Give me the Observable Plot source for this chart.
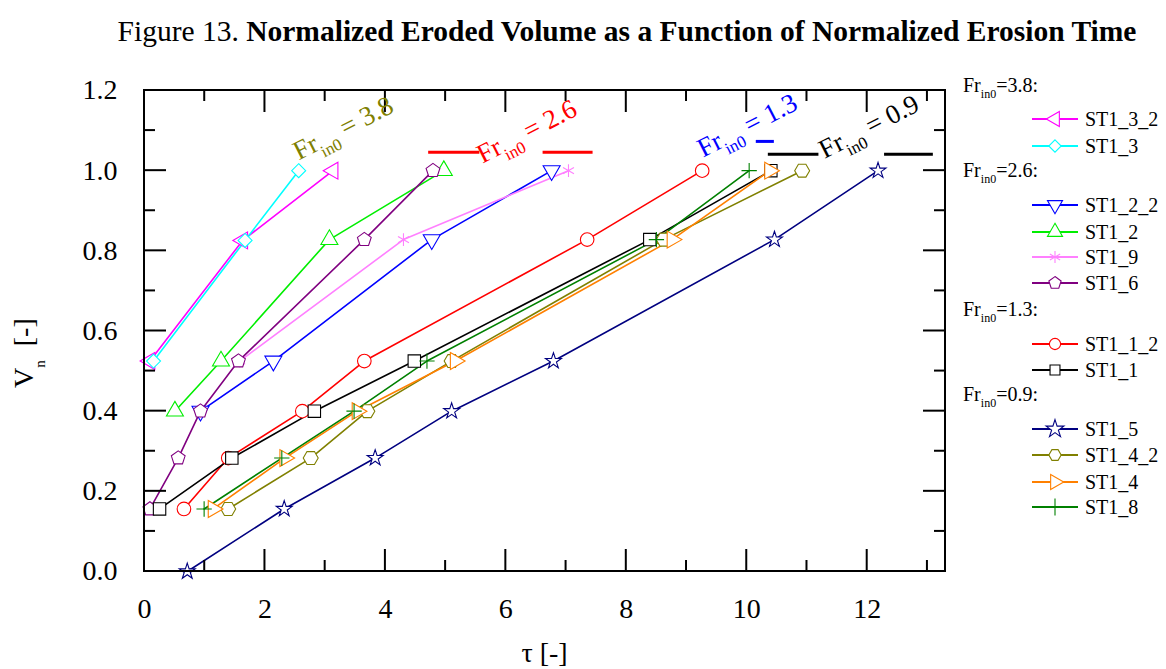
<!DOCTYPE html>
<html>
<head>
<meta charset="utf-8">
<script src="https://cdn.jsdelivr.net/npm/d3@7"></script>
<script src="https://cdn.jsdelivr.net/npm/@observablehq/plot@0.6"></script>
<style>
  html, body { margin: 0; padding: 0; background: #fff; }
  #title {
    font-family: "Liberation Serif", "Times New Roman", serif;
    font-size: 29.5px; line-height: 34px; height: 60px; box-sizing: border-box;
    width: 1166px; padding-top: 14px; padding-left: 88px; text-align: center; color: #000;
    white-space: nowrap;
  }
  #chart svg { display: block; }
</style>
</head>
<body>
<div id="title">Figure 13. <b>Normalized Eroded Volume as a Function of Normalized Erosion Time</b></div>
<div id="chart"></div>
<script>
// ---------- data ----------
const xMajor = [0, 2, 4, 6, 8, 10, 12];
const xMinor = [1, 3, 5, 7, 9, 11, 13];
const yMajor = [0, 0.2, 0.4, 0.6, 0.8, 1.0, 1.2];
const yMinor = [0.1, 0.3, 0.5, 0.7, 0.9, 1.1];

const seriesNames = ["ST1_3_2", "ST1_3", "ST1_2_2", "ST1_2", "ST1_9", "ST1_6", "ST1_1_2", "ST1_1", "ST1_5", "ST1_4_2", "ST1_4", "ST1_8"];

const tau_ST1_3_2 = [0.09, 1.63, 3.13];
const vn_ST1_3_2  = [0.525, 0.826, 1.0];
const tau_ST1_3   = [0.15, 1.67, 2.56];
const vn_ST1_3    = [0.525, 0.826, 1.0];
const tau_ST1_2_2 = [0.93, 2.14, 4.77, 6.76];
const vn_ST1_2_2  = [0.40, 0.525, 0.828, 1.0];
const tau_ST1_2   = [0.505, 1.27, 3.07, 4.97];
const vn_ST1_2    = [0.40, 0.525, 0.828, 1.0];
const tau_ST1_9   = [1.58, 4.30, 7.04];
const vn_ST1_9    = [0.525, 0.828, 1.0];
const tau_ST1_6   = [0.09, 0.56, 0.93, 1.56, 3.65, 4.79];
const vn_ST1_6    = [0.156, 0.283, 0.40, 0.525, 0.828, 1.0];
const tau_ST1_1_2 = [0.655, 1.39, 2.62, 3.65, 7.35, 9.26];
const vn_ST1_1_2  = [0.156, 0.283, 0.40, 0.525, 0.828, 1.0];
const tau_ST1_1   = [0.25, 1.45, 2.82, 4.48, 8.39, 10.40];
const vn_ST1_1    = [0.156, 0.283, 0.40, 0.525, 0.828, 1.0];
const tau_ST1_5   = [0.71, 2.32, 3.83, 5.10, 6.79, 10.46, 12.18];
const vn_ST1_5    = [0.0, 0.156, 0.283, 0.40, 0.525, 0.828, 1.0];
const tau_ST1_4_2 = [1.39, 2.76, 3.70, 5.10, 8.62, 10.92];
const vn_ST1_4_2  = [0.156, 0.283, 0.40, 0.525, 0.828, 1.0];
const tau_ST1_4   = [1.14, 2.33, 3.53, 5.16, 8.76, 10.38];
const vn_ST1_4    = [0.156, 0.283, 0.40, 0.525, 0.828, 1.0];
const tau_ST1_8   = [0.99, 2.28, 3.48, 4.69, 8.50, 10.04];
const vn_ST1_8    = [0.156, 0.283, 0.40, 0.525, 0.828, 1.0];

// legend groups (Fr_in0 values)
const groupFr = ["3.8", "2.6", "1.3", "0.9"];
const groupMembers = [["ST1_3_2", "ST1_3"], ["ST1_2_2", "ST1_2", "ST1_9", "ST1_6"], ["ST1_1_2", "ST1_1"], ["ST1_5", "ST1_4_2", "ST1_4", "ST1_8"]];

// in-plot annotations "Fr_in0 = ..." (anchor in data units)
const annoFr  = ["3.8", "2.6", "1.3", "0.9"];
const annoTau = [2.57, 5.62, 9.28, 11.30];
const annoVn  = [1.024, 1.016, 1.031, 1.028];
// short horizontal strokes next to the annotations
const dashTau1 = [4.71, 6.61, 10.15, 10.35, 12.28];
const dashTau2 = [5.56, 7.44, 10.45, 11.19, 13.09];
const dashVn   = [1.046, 1.046, 1.073, 1.041, 1.041];
const dashFr   = ["2.6", "2.6", "1.3", "0.9", "0.9"];

// ---------- styles ----------
const pentagon = {
  draw(context, size) {
    const r = Math.sqrt(size / 2.378);
    for (let k = 0; k < 5; ++k) {
      const a = -Math.PI / 2 + k * 2 * Math.PI / 5;
      const px = r * Math.cos(a), py = r * Math.sin(a);
      k ? context.lineTo(px, py) : context.moveTo(px, py);
    }
    context.closePath();
  }
};
const hexagon = {
  draw(context, size) {
    const r = Math.sqrt(size / 2.598);
    for (let k = 0; k < 6; ++k) {
      const a = k * Math.PI / 3;
      const px = r * Math.cos(a), py = r * Math.sin(a);
      k ? context.lineTo(px, py) : context.moveTo(px, py);
    }
    context.closePath();
  }
};
const style = {
  ST1_3_2: {color: "#ff00ff", symbol: "triangle", d3sym: d3.symbolTriangle, rotate: -90, r: 6.3},
  ST1_3:   {color: "#00ffff", symbol: "diamond2", d3sym: d3.symbolDiamond2, rotate: 0, r: 6.3},
  ST1_2_2: {color: "#0000ff", symbol: "triangle", d3sym: d3.symbolTriangle, rotate: 180, r: 6.3},
  ST1_2:   {color: "#00ee00", symbol: "triangle", d3sym: d3.symbolTriangle, rotate: 0, r: 6.3},
  ST1_9:   {color: "#ff80ff", symbol: "asterisk", d3sym: d3.symbolAsterisk, rotate: 0, r: 6.0},
  ST1_6:   {color: "#800080", symbol: pentagon, d3sym: pentagon, rotate: 0, r: 6.3},
  ST1_1_2: {color: "#ff0000", symbol: "circle", d3sym: d3.symbolCircle, rotate: 0, r: 6.8},
  ST1_1:   {color: "#000000", symbol: "square", d3sym: d3.symbolSquare, rotate: 0, r: 7.0},
  ST1_5:   {color: "#000080", symbol: "star", d3sym: d3.symbolStar, rotate: 0, r: 5.0},
  ST1_4_2: {color: "#808000", symbol: hexagon, d3sym: hexagon, rotate: 0, r: 6.8},
  ST1_4:   {color: "#ff8000", symbol: "triangle", d3sym: d3.symbolTriangle, rotate: 90, r: 6.3},
  ST1_8:   {color: "#008000", symbol: "plus", d3sym: d3.symbolPlus, rotate: 0, r: 5.0}
};
const frColor = {"3.8": "#808000", "2.6": "#ff0000", "1.3": "#0000ff", "0.9": "#000000"};

const tauOf = {ST1_3_2: tau_ST1_3_2, ST1_3: tau_ST1_3, ST1_2_2: tau_ST1_2_2, ST1_2: tau_ST1_2, ST1_9: tau_ST1_9, ST1_6: tau_ST1_6,
  ST1_1_2: tau_ST1_1_2, ST1_1: tau_ST1_1, ST1_5: tau_ST1_5, ST1_4_2: tau_ST1_4_2, ST1_4: tau_ST1_4, ST1_8: tau_ST1_8};
const vnOf = {ST1_3_2: vn_ST1_3_2, ST1_3: vn_ST1_3, ST1_2_2: vn_ST1_2_2, ST1_2: vn_ST1_2, ST1_9: vn_ST1_9, ST1_6: vn_ST1_6,
  ST1_1_2: vn_ST1_1_2, ST1_1: vn_ST1_1, ST1_5: vn_ST1_5, ST1_4_2: vn_ST1_4_2, ST1_4: vn_ST1_4, ST1_8: vn_ST1_8};

const rowsOf = s => tauOf[s].map((t, i) => ({series: s, tau: t, vn: vnOf[s][i]}));
const dashRows = dashTau1.map((t, i) => ({x1: t, x2: dashTau2[i], y: dashVn[i], fr: dashFr[i]}));

const FONT = "Liberation Serif, Times New Roman, serif";
const SVGNS = "http://www.w3.org/2000/svg";

function addFrText(textSel, fr, big, small, drop, sep) {
  textSel.append("tspan").text("Fr");
  textSel.append("tspan").attr("font-size", small).attr("dy", drop).text("in0");
  textSel.append("tspan").attr("font-size", big).attr("dy", -drop).text(sep + fr);
}

// frame, inward ticks, axis titles, annotations and legend
function decor(index, scales, values, dims) {
  const x = scales.x, y = scales.y;
  const L = dims.marginLeft, R = dims.width - dims.marginRight;
  const T = dims.marginTop, B = dims.height - dims.marginBottom;
  const g = d3.select(document.createElementNS(SVGNS, "g"))
    .attr("font-family", FONT).attr("text-anchor", "start").style("text-anchor", "start");
  const ticks = g.append("g").attr("stroke", "#000").attr("stroke-width", 2).attr("fill", "none");
  const tk = (x1, y1, x2, y2) => ticks.append("line").attr("x1", x1).attr("y1", y1).attr("x2", x2).attr("y2", y2);
  xMajor.forEach(v => { tk(x(v), B, x(v), B - 22); tk(x(v), T, x(v), T + 22); });
  xMinor.forEach(v => { tk(x(v), B, x(v), B - 11); tk(x(v), T, x(v), T + 11); });
  yMajor.forEach(v => { tk(L, y(v), L + 22, y(v)); tk(R, y(v), R - 22, y(v)); });
  yMinor.forEach(v => { tk(L, y(v), L + 11, y(v)); tk(R, y(v), R - 11, y(v)); });
  ticks.append("rect").attr("x", L).attr("y", T).attr("width", R - L).attr("height", B - T);

  // axis titles
  g.append("text").attr("x", (L + R) / 2).attr("y", 602).attr("text-anchor", "middle").style("text-anchor", "middle")
    .attr("font-size", 28).text("τ [-]");
  const yl = g.append("text").attr("transform", "translate(33,328) rotate(-90)").attr("font-size", 28);
  yl.append("tspan").text("V");
  yl.append("tspan").attr("font-size", 15).attr("dy", 12).text("n");
  yl.append("tspan").attr("dy", -12).text("\u2002[-]");

  // annotations
  annoFr.forEach((fr, i) => {
    const t = g.append("text")
      .attr("transform", `translate(${x(annoTau[i])},${y(annoVn[i])}) rotate(-27)`)
      .attr("font-size", 27).attr("fill", frColor[fr]);
    addFrText(t, fr, 27, 17, 9, " = ");
  });

  // legend
  const lg = g.append("g");
  const headerY = [92, 177, 316, 401];
  const entryY = [[119, 146], [205, 232, 257, 283], [344, 370], [429, 455, 482, 507]];
  groupFr.forEach((fr, gi) => {
    const h = lg.append("text").attr("x", 963).attr("y", headerY[gi] - 60).attr("font-size", 20).attr("fill", "#000");
    addFrText(h, fr, 20, 12, 6, "=");
    h.append("tspan").text(":");
    groupMembers[gi].forEach((s, k) => {
      const cy = entryY[gi][k] - 60;
      const st = style[s];
      lg.append("line").attr("x1", 1032).attr("x2", 1078).attr("y1", cy).attr("y2", cy)
        .attr("stroke", st.color).attr("stroke-width", 2);
      lg.append("path").attr("d", d3.symbol(st.d3sym, Math.PI * 5.6 * 5.6)())
        .attr("transform", `translate(1055,${cy}) rotate(${st.rotate})`)
        .attr("fill", "#fff").attr("stroke", st.color).attr("stroke-width", 1.1);
      lg.append("text").attr("x", 1085).attr("y", cy + 7).attr("font-size", 20).attr("fill", "#000").text(s);
    });
  });
  return g.node();
}

const marks = [
  Plot.link(dashRows, {x1: "x1", x2: "x2", y1: "y", y2: "y", stroke: d => frColor[d.fr], strokeWidth: 3}),
  ...seriesNames.map(s => Plot.line(rowsOf(s), {x: "tau", y: "vn", stroke: style[s].color, strokeWidth: 1.6})),
  ...seriesNames.map(s => Plot.dot(rowsOf(s), {x: "tau", y: "vn", symbol: style[s].symbol, rotate: style[s].rotate,
      r: style[s].r, stroke: style[s].color, fill: "#fff", strokeWidth: 1.1})),
  Plot.axisX({ticks: xMajor, tickSize: 0, tickPadding: 27, fontSize: 28, label: null, tickFormat: d => String(d)}),
  Plot.axisY({ticks: yMajor, tickSize: 0, tickPadding: 27, fontSize: 28, label: null, tickFormat: d3.format(".1f")}),
  decor
];

const chart = Plot.plot({
  width: 1166, height: 609,
  marginLeft: 144, marginRight: 221, marginTop: 30, marginBottom: 98,
  x: {domain: [0, 13.3], nice: false},
  y: {domain: [0, 1.2], nice: false},
  style: {fontFamily: FONT, background: "#fff", color: "#000", overflow: "visible"},
  marks
});
document.getElementById("chart").appendChild(chart);
</script>
</body>
</html>
